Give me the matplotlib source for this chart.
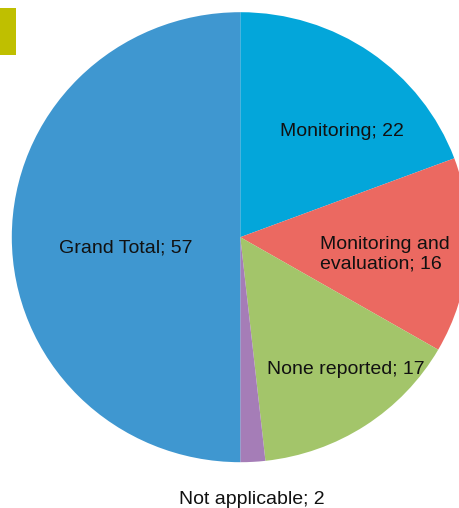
import matplotlib
matplotlib.use("Agg")
import matplotlib.pyplot as plt
from matplotlib.patches import Rectangle

categories = ["Monitoring", "Monitoring and\nevaluation", "None reported", "Not applicable", "Grand Total"]
values = [22, 16, 17, 2, 57]
colors = ["#03A6DA", "#EB6961", "#A3C56A", "#A57DB7", "#3F97D0"]

# label positions in pixel space (x, y from top)
label_pos = [(342, 132), (320, 254), (346, 369), (252, 500), (126, 248)]
label_ha = ["center", "left", "center", "center", "center"]

W, H = 460, 508
rx, ry = 228.5, 225.0          # pixel radii (slightly elliptical, as in the reference)
sy = ry / rx                   # pixels per y-unit
fig = plt.figure(figsize=(W / 100, H / 100), dpi=100)
ax = fig.add_axes([0, 0, 1, 1])

cx, cy = 240.3, (H - 237.2) / sy
ax.pie(values, colors=colors, startangle=90, counterclock=False,
       center=(cx, cy), radius=rx, frame=True,
       wedgeprops=dict(linewidth=0))
ax.set_aspect("auto")
ax.set_xlim(0, W)
ax.set_ylim(0, H / sy)
ax.axis("off")

for cat, v, (x, y), ha in zip(categories, values, label_pos, label_ha):
    ax.text(x, (H - y) / sy, f"{cat}; {v}", ha=ha, va="center", fontsize=14,
            family=["Liberation Sans", "DejaVu Sans"], color="#111111",
            linespacing=1.2)

ax.add_patch(Rectangle((0, (H - 55) / sy), 16, 47 / sy, color="#BFBF00", lw=0))

fig.savefig("out.png", dpi=100)
